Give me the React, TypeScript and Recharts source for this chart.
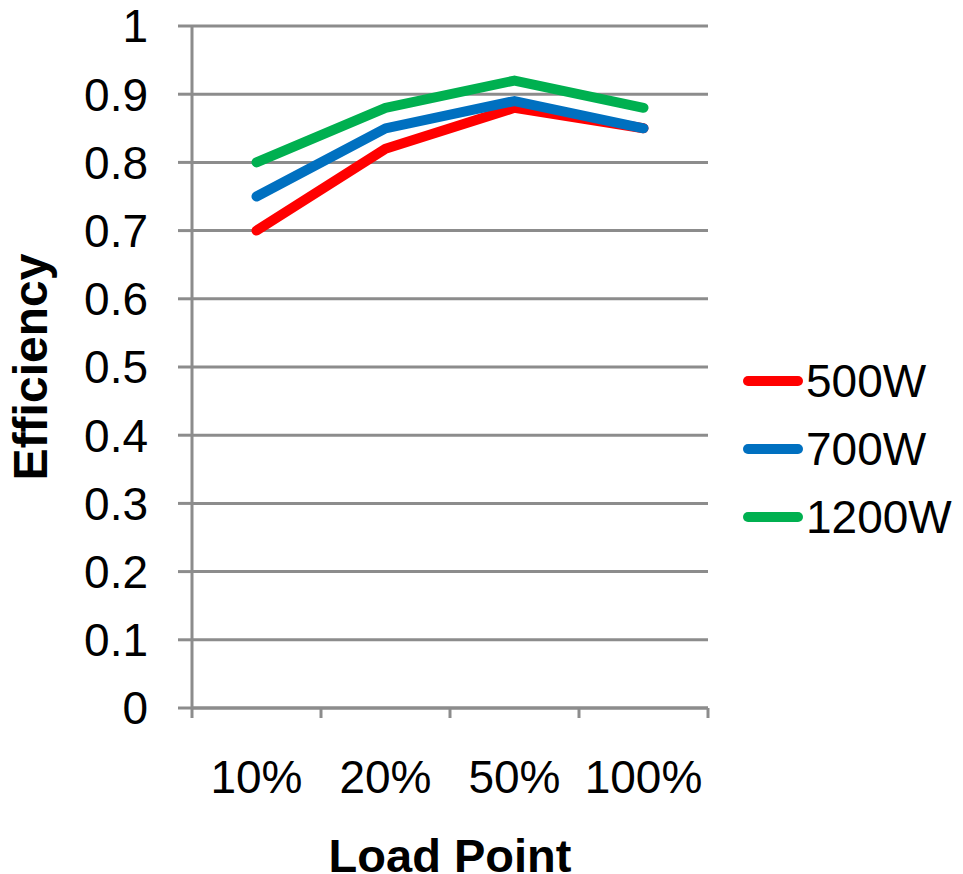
import React from 'react';
import { LineChart, Line, XAxis, YAxis, CartesianGrid, Legend } from 'recharts';

const loadPoints = ['10%', '20%', '50%', '100%'];
const eff500 = [0.7, 0.82, 0.88, 0.85];
const eff700 = [0.75, 0.85, 0.89, 0.85];
const eff1200 = [0.8, 0.88, 0.92, 0.88];
const yTicks = [0, 0.1, 0.2, 0.3, 0.4, 0.5, 0.6, 0.7, 0.8, 0.9, 1];
const boundaryTicks = [0, 1, 2, 3, 4];
const centerTicks = [0.5, 1.5, 2.5, 3.5];

const seriesList = [
  { key: 'w500', name: '500W', color: '#ff0000' },
  { key: 'w700', name: '700W', color: '#0070c0' },
  { key: 'w1200', name: '1200W', color: '#00b050' },
];

// category i sits in the middle of band [i, i+1]
const chartData = loadPoints.map((label, i) => ({
  pos: i + 0.5,
  label,
  w500: eff500[i],
  w700: eff700[i],
  w1200: eff1200[i],
}));

const FONT = 'Liberation Sans, Arial, sans-serif';
const GRID = '#8c8c8c';

const formatY = (v: number) => (v === 0 ? '0' : v === 1 ? '1' : v.toFixed(1));
const formatCat = (v: number) => loadPoints[Math.floor(v)] ?? '';

const LegendBox = () => (
  <div style={{ fontFamily: FONT, fontSize: 46, color: '#000' }}>
    {seriesList.map((s) => (
      <div key={s.key} style={{ display: 'flex', alignItems: 'center', height: 68 }}>
        <div style={{ width: 60, height: 10, borderRadius: 5, background: s.color }} />
        <span style={{ marginLeft: 3, lineHeight: '46px' }}>{s.name}</span>
      </div>
    ))}
  </div>
);

export default function App() {
  return (
    <LineChart
      width={947}
      height={866}
      data={chartData}
      margin={{ top: 18, right: 35, left: 0, bottom: 0 }}
    >
      <CartesianGrid horizontal vertical={false} stroke={GRID} strokeWidth={3} />
      <XAxis
        xAxisId={0}
        dataKey="pos"
        type="number"
        domain={[0, 4]}
        ticks={boundaryTicks}
        interval={0}
        tickFormatter={() => ''}
        height={12}
        tickSize={10}
        axisLine={{ stroke: GRID, strokeWidth: 3 }}
        tickLine={{ stroke: GRID, strokeWidth: 3 }}
      />
      <XAxis
        xAxisId="cat"
        dataKey="pos"
        type="number"
        domain={[0, 4]}
        ticks={centerTicks}
        interval={0}
        tickFormatter={formatCat}
        height={154}
        tickSize={0}
        tickMargin={40}
        axisLine={false}
        tickLine={false}
        tick={{ fill: '#000', fontSize: 46, fontFamily: FONT }}
        label={{
          content: ({ viewBox }: any) => (
            <text
              x={viewBox.x + viewBox.width / 2}
              y={viewBox.y + 152}
              textAnchor="middle"
              fontFamily={FONT}
              fontSize={47}
              fontWeight="bold"
              fill="#000"
            >
              Load Point
            </text>
          ),
        }}
      />
      <YAxis
        domain={[0, 1]}
        ticks={yTicks}
        interval={0}
        tickFormatter={formatY}
        width={184}
        tickSize={14}
        tickMargin={30}
        axisLine={{ stroke: GRID, strokeWidth: 3 }}
        tickLine={{ stroke: GRID, strokeWidth: 3 }}
        tick={{ fill: '#000', fontSize: 46, fontFamily: FONT }}
        label={{
          content: ({ viewBox }: any) => {
            const cy = viewBox.y + viewBox.height / 2;
            return (
              <text
                x={39}
                y={cy}
                transform={`rotate(-90, 39, ${cy})`}
                textAnchor="middle"
                fontFamily={FONT}
                fontSize={48}
                fontWeight="bold"
                fill="#000"
              >
                Efficiency
              </text>
            );
          },
        }}
      />
      <Legend
        layout="vertical"
        align="right"
        verticalAlign="middle"
        content={<LegendBox />}
        wrapperStyle={{ left: 735, top: 339, width: 212 }}
      />
      {seriesList.map((s) => (
        <Line
          key={s.key}
          xAxisId={0}
          dataKey={s.key}
          name={s.name}
          type="linear"
          stroke={s.color}
          strokeWidth={10}
          strokeLinecap="round"
          strokeLinejoin="round"
          dot={false}
          activeDot={false}
          isAnimationActive={false}
        />
      ))}
    </LineChart>
  );
}
